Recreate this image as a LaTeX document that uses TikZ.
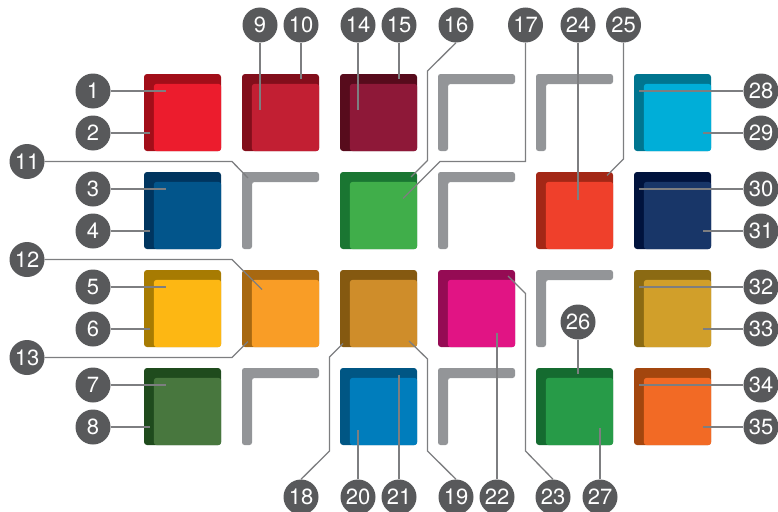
\documentclass[tikz,border=0pt]{standalone}
\usepackage{fontspec}
\setmainfont{TeX Gyre Heros}
\usepackage{xcolor}
\usepackage{tikz}
\usetikzlibrary{positioning,calc}

\definecolor{redL}{HTML}{EC1C2D}\definecolor{redD}{HTML}{A20E19}
\definecolor{crimsonL}{HTML}{C21F33}\definecolor{crimsonD}{HTML}{820E1B}
\definecolor{maroonL}{HTML}{8E1838}\definecolor{maroonD}{HTML}{570B1C}
\definecolor{cyanL}{HTML}{00AED8}\definecolor{cyanD}{HTML}{00758F}
\definecolor{blueL}{HTML}{02558B}\definecolor{blueD}{HTML}{00355F}
\definecolor{greenL}{HTML}{40AE4A}\definecolor{greenD}{HTML}{1A7632}
\definecolor{vermL}{HTML}{EF402B}\definecolor{vermD}{HTML}{A32716}
\definecolor{navyL}{HTML}{183668}\definecolor{navyD}{HTML}{00133D}
\definecolor{yellowL}{HTML}{FDB713}\definecolor{yellowD}{HTML}{A77B02}
\definecolor{orangeL}{HTML}{F99D26}\definecolor{orangeD}{HTML}{A76811}
\definecolor{ochreL}{HTML}{CF8D2A}\definecolor{ochreD}{HTML}{855910}
\definecolor{magentaL}{HTML}{E11484}\definecolor{magentaD}{HTML}{950B54}
\definecolor{goldL}{HTML}{D19F2A}\definecolor{goldD}{HTML}{8B6A13}
\definecolor{forestL}{HTML}{48773E}\definecolor{forestD}{HTML}{1F4B1D}
\definecolor{oceanL}{HTML}{007DBC}\definecolor{oceanD}{HTML}{005684}
\definecolor{emeraldL}{HTML}{279B48}\definecolor{emeraldD}{HTML}{156B30}
\definecolor{tangerineL}{HTML}{F26A25}\definecolor{tangerineD}{HTML}{A3460E}
\definecolor{framegray}{HTML}{939598}
\definecolor{badgegray}{HTML}{58595B}
\definecolor{wiregray}{HTML}{7D7E80}

\begin{document}
\begin{tikzpicture}[
  x=1pt, y=-1pt,
  font=\fontsize{22}{22}\selectfont,
  tile/.style={minimum size=77pt, inner sep=0pt, rounded corners=3pt},
  face/.style={rounded corners=3pt},
  frame/.style={fill=framegray, rounded corners=2.5pt},
  badge/.style={circle, fill=badgegray, text=white, minimum size=35pt, inner sep=0pt},
  wire/.style={draw=wiregray, line width=1.3pt}
]
\useasboundingbox (0,0) rectangle (778,511);

\node[tile, fill=redD] (tRed) at (182.5,112.5) {};
\fill[redL, face] ([shift={(10pt,-10pt)}]tRed.north west) rectangle (tRed.south east);
\node[tile, fill=crimsonD] (tCrimson) at (280.5,112.5) {};
\fill[crimsonL, face] ([shift={(10pt,-10pt)}]tCrimson.north west) rectangle (tCrimson.south east);
\node[tile, fill=maroonD] (tMaroon) at (378.5,112.5) {};
\fill[maroonL, face] ([shift={(10pt,-10pt)}]tMaroon.north west) rectangle (tMaroon.south east);
\node[tile, fill=cyanD] (tCyan) at (672.5,112.5) {};
\fill[cyanL, face] ([shift={(10pt,-10pt)}]tCyan.north west) rectangle (tCyan.south east);
\node[tile, fill=blueD] (tBlue) at (182.5,210.5) {};
\fill[blueL, face] ([shift={(10pt,-10pt)}]tBlue.north west) rectangle (tBlue.south east);
\node[tile, fill=greenD] (tGreen) at (378.5,210.5) {};
\fill[greenL, face] ([shift={(10pt,-10pt)}]tGreen.north west) rectangle (tGreen.south east);
\node[tile, fill=vermD] (tVerm) at (574.5,210.5) {};
\fill[vermL, face] ([shift={(10pt,-10pt)}]tVerm.north west) rectangle (tVerm.south east);
\node[tile, fill=navyD] (tNavy) at (672.5,210.5) {};
\fill[navyL, face] ([shift={(10pt,-10pt)}]tNavy.north west) rectangle (tNavy.south east);
\node[tile, fill=yellowD] (tYellow) at (182.5,308.5) {};
\fill[yellowL, face] ([shift={(10pt,-10pt)}]tYellow.north west) rectangle (tYellow.south east);
\node[tile, fill=orangeD] (tOrange) at (280.5,308.5) {};
\fill[orangeL, face] ([shift={(10pt,-10pt)}]tOrange.north west) rectangle (tOrange.south east);
\node[tile, fill=ochreD] (tOchre) at (378.5,308.5) {};
\fill[ochreL, face] ([shift={(10pt,-10pt)}]tOchre.north west) rectangle (tOchre.south east);
\node[tile, fill=magentaD] (tMagenta) at (476.5,308.5) {};
\fill[magentaL, face] ([shift={(10pt,-10pt)}]tMagenta.north west) rectangle (tMagenta.south east);
\node[tile, fill=goldD] (tGold) at (672.5,308.5) {};
\fill[goldL, face] ([shift={(10pt,-10pt)}]tGold.north west) rectangle (tGold.south east);
\node[tile, fill=forestD] (tForest) at (182.5,406.5) {};
\fill[forestL, face] ([shift={(10pt,-10pt)}]tForest.north west) rectangle (tForest.south east);
\node[tile, fill=oceanD] (tOcean) at (378.5,406.5) {};
\fill[oceanL, face] ([shift={(10pt,-10pt)}]tOcean.north west) rectangle (tOcean.south east);
\node[tile, fill=emeraldD] (tEmerald) at (574.5,406.5) {};
\fill[emeraldL, face] ([shift={(10pt,-10pt)}]tEmerald.north west) rectangle (tEmerald.south east);
\node[tile, fill=tangerineD] (tTangerine) at (672.5,406.5) {};
\fill[tangerineL, face] ([shift={(10pt,-10pt)}]tTangerine.north west) rectangle (tTangerine.south east);

\coordinate (gA) at (438,74);
\coordinate (gB) at (536,74);
\coordinate (gC) at (242,172);
\coordinate (gD) at (438,172);
\coordinate (gE) at (536,270);
\coordinate (gF) at (242,368);
\coordinate (gG) at (438,368);
\fill[frame] (gA) ++(0,77) -- ++(0,-77) -- ++(77,0) -- ++(0,10) -- ++(-67,0) -- ++(0,67) -- cycle;
\fill[frame] (gB) ++(0,77) -- ++(0,-77) -- ++(77,0) -- ++(0,10) -- ++(-67,0) -- ++(0,67) -- cycle;
\fill[frame] (gC) ++(0,77) -- ++(0,-77) -- ++(77,0) -- ++(0,10) -- ++(-67,0) -- ++(0,67) -- cycle;
\fill[frame] (gD) ++(0,77) -- ++(0,-77) -- ++(77,0) -- ++(0,10) -- ++(-67,0) -- ++(0,67) -- cycle;
\fill[frame] (gE) ++(0,77) -- ++(0,-77) -- ++(77,0) -- ++(0,10) -- ++(-67,0) -- ++(0,67) -- cycle;
\fill[frame] (gF) ++(0,77) -- ++(0,-77) -- ++(77,0) -- ++(0,10) -- ++(-67,0) -- ++(0,67) -- cycle;
\fill[frame] (gG) ++(0,77) -- ++(0,-77) -- ++(77,0) -- ++(0,10) -- ++(-67,0) -- ++(0,67) -- cycle;

\node[badge] (c1) at (93,91) {1};
\node[badge] (c2) at (93,133) {2};
\node[badge] (c3) at (93,189) {3};
\node[badge] (c4) at (93,231) {4};
\node[badge] (c5) at (93,287) {5};
\node[badge] (c6) at (93,329) {6};
\node[badge] (c7) at (93,385) {7};
\node[badge] (c8) at (93,427) {8};
\node[badge] (c9) at (260,25) {9};
\node[badge] (c10) at (301,25) {10};
\node[badge] (c11) at (27,161.5) {11};
\node[badge] (c12) at (27,259.5) {12};
\node[badge] (c13) at (27,357.5) {13};
\node[badge] (c14) at (358,25) {14};
\node[badge] (c15) at (399,25) {15};
\node[badge] (c16) at (456,25) {16};
\node[badge] (c17) at (525.5,25) {17};
\node[badge] (c18) at (301,497) {18};
\node[badge] (c19) at (456,497) {19};
\node[badge] (c20) at (358,497) {20};
\node[badge] (c21) at (399,497) {21};
\node[badge] (c22) at (497,497) {22};
\node[badge] (c23) at (553,497) {23};
\node[badge] (c24) at (578,25) {24};
\node[badge] (c25) at (623.5,25) {25};
\node[badge] (c26) at (578,322) {26};
\node[badge] (c27) at (600,497) {27};
\node[badge] (c28) at (761,91) {28};
\node[badge] (c29) at (761,133) {29};
\node[badge] (c30) at (761,189) {30};
\node[badge] (c31) at (761,231) {31};
\node[badge] (c32) at (761,287) {32};
\node[badge] (c33) at (761,329) {33};
\node[badge] (c34) at (761,385) {34};
\node[badge] (c35) at (761,427) {35};

\coordinate (e1) at (166,91);
\coordinate (e2) at (150,133);
\coordinate (e3) at (166,189);
\coordinate (e4) at (150,231);
\coordinate (e5) at (166,287);
\coordinate (e6) at (150,329);
\coordinate (e7) at (166,385);
\coordinate (e8) at (150,427);
\coordinate (e9) at (260,110);
\coordinate (e10) at (301,79);
\coordinate (e11) at (248,178);
\coordinate (e12) at (262,289.5);
\coordinate (e13) at (248,341.5);
\coordinate (e14) at (358,110);
\coordinate (e15) at (399,79);
\coordinate (e16) at (411,177);
\coordinate (e17) at (403,198.5);
\coordinate (e18) at (343,343.5);
\coordinate (e19) at (409,341);
\coordinate (e20) at (358,430);
\coordinate (e21) at (399,375);
\coordinate (e22) at (497,333);
\coordinate (e23) at (508,276);
\coordinate (e24) at (578,200);
\coordinate (e25) at (607,175.5);
\coordinate (e26) at (578,374);
\coordinate (e27) at (600,428);
\coordinate (e28) at (639,91);
\coordinate (e29) at (703,133);
\coordinate (e30) at (639,189);
\coordinate (e31) at (703,231);
\coordinate (e32) at (639,287);
\coordinate (e33) at (703,329);
\coordinate (e34) at (639,385);
\coordinate (e35) at (703,427);

\draw[wire] (c1) -- (e1);
\draw[wire] (c2) -- (e2);
\draw[wire] (c3) -- (e3);
\draw[wire] (c4) -- (e4);
\draw[wire] (c5) -- (e5);
\draw[wire] (c6) -- (e6);
\draw[wire] (c7) -- (e7);
\draw[wire] (c8) -- (e8);
\draw[wire] (c9) -- (e9);
\draw[wire] (c10) -- (e10);
\draw[wire] (c11) -- (232,161.5) -- (e11);
\draw[wire] (c12) -- (232,259.5) -- (e12);
\draw[wire] (c13) -- (232,357.5) -- (e13);
\draw[wire] (c14) -- (e14);
\draw[wire] (c15) -- (e15);
\draw[wire] (c16.south) -- (427.5,71) -- (427.5,160.5) -- (e16);
\draw[wire] (c17) -- (525.5,161.5) -- (440,161.5) -- (e17);
\draw[wire] (c18.north) -- (329.5,451) -- (329.5,357) -- (e18);
\draw[wire] (c19.north) -- (427.5,451) -- (427.5,359) -- (e19);
\draw[wire] (c20) -- (e20);
\draw[wire] (c21) -- (e21);
\draw[wire] (c22) -- (e22);
\draw[wire] (c23.north) -- (525.5,451) -- (525.5,293.5) -- (e23);
\draw[wire] (c24) -- (e24);
\draw[wire] (c25) -- (623.5,159) -- (e25);
\draw[wire] (c26) -- (e26);
\draw[wire] (c27) -- (e27);
\draw[wire] (c28) -- (e28);
\draw[wire] (c29) -- (e29);
\draw[wire] (c30) -- (e30);
\draw[wire] (c31) -- (e31);
\draw[wire] (c32) -- (e32);
\draw[wire] (c33) -- (e33);
\draw[wire] (c34) -- (e34);
\draw[wire] (c35) -- (e35);
\end{tikzpicture}
\end{document}
